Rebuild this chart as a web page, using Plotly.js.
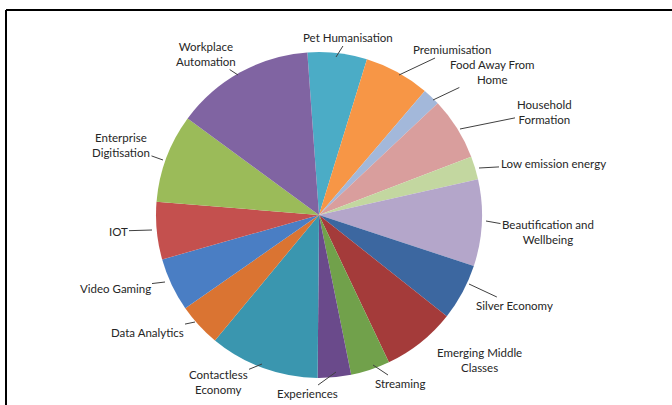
<!DOCTYPE html>
<html>
<head>
<meta charset="utf-8">
<script src="https://cdn.plot.ly/plotly-3.0.1.min.js"></script>
<style>html,body{margin:0;padding:0;background:#fff;}#chart{width:672px;height:405px;}</style>
</head>
<body>
<div id="chart"></div>
<script>
// ---- data ----
var categories = [
  "Pet Humanisation", "Premiumisation", "Food Away From Home", "Household Formation",
  "Low emission energy", "Beautification and Wellbeing", "Silver Economy",
  "Emerging Middle Classes", "Streaming", "Experiences", "Contactless Economy",
  "Data Analytics", "Video Gaming", "IOT", "Enterprise Digitisation", "Workplace Automation"
];
var shares = [5.9, 6.5, 1.75, 6.2, 2.3, 8.6, 5.6, 7.3, 3.9, 3.3, 10.9, 4.3, 5.3, 5.7, 8.8, 13.8];
var labelTexts = [
  "Pet Humanisation", "Premiumisation", "Food Away From<br>Home", "Household<br>Formation",
  "Low emission energy", "Beautification and<br>Wellbeing", "Silver Economy",
  "Emerging Middle<br>Classes", "Streaming", "Experiences", "Contactless<br>Economy",
  "Data Analytics", "Video Gaming", "IOT", "Enterprise<br>Digitisation", "Workplace<br>Automation"
];
var sliceColors = [
  "#4BACC6", "#F79646", "#A3B8DA", "#D99E9D", "#C3D7A0", "#B4A6CA", "#3C67A0",
  "#A43B3A", "#71A14B", "#6A4A8B", "#3A96AF", "#DA7432", "#4A7EC4", "#C4504E",
  "#9BBB59", "#8064A2"
];

// ---- layout: label placement (pixels): text centre and leader end point ----
var W = 672, H = 405;
var labelPos = [
  {tx: 348, ty: 38,  hx: 336, hy: 57},
  {tx: 452, ty: 50,  hx: 399, hy: 75},
  {tx: 492, ty: 72,  hx: 433, hy: 100},
  {tx: 544, ty: 112, hx: 460, hy: 129},
  {tx: 553, ty: 164, hx: 479, hy: 168},
  {tx: 548, ty: 232, hx: 486, hy: 221},
  {tx: 514, ty: 305, hx: 469, hy: 284},
  {tx: 479, ty: 360, hx: null, hy: null},
  {tx: 400, ty: 383, hx: 373, hy: 365},
  {tx: 307, ty: 393, hx: 336, hy: 372},
  {tx: 218, ty: 382, hx: 262, hy: 364},
  {tx: 147, ty: 332, hx: 195, hy: 322},
  {tx: 115, ty: 288, hx: 165, hy: 282},
  {tx: 118, ty: 231, hx: 152, hy: 230},
  {tx: 121, ty: 145, hx: 163, hy: 160},
  {tx: 206, ty: 54,  hx: 238, hy: 75}
];

var cx = 319, cy = 215, R = 163;

var annotations = labelTexts.map(function (t, i) {
  var p = labelPos[i];
  var base = {
    text: t, xref: "paper", yref: "paper",
    xanchor: "center", yanchor: "middle",
    font: {family: "Lato, 'Open Sans', sans-serif", size: 11.5, color: "#262626"},
    align: "center"
  };
  if (p.hx === null) {
    base.x = p.tx / W; base.y = 1 - p.ty / H; base.showarrow = false;
  } else {
    base.x = p.hx / W; base.y = 1 - p.hy / H;
    base.showarrow = true; base.arrowhead = 0; base.arrowwidth = 1;
    base.arrowcolor = "#404040"; base.standoff = 0; base.startstandoff = 0;
    base.ax = p.tx - p.hx; base.ay = p.ty - p.hy;
  }
  return base;
});

var trace = {
  type: "pie",
  labels: categories,
  values: shares,
  sort: false,
  direction: "clockwise",
  rotation: -4.1,
  marker: {colors: sliceColors, line: {width: 0}},
  textinfo: "none",
  hoverinfo: "label+percent",
  showlegend: false,
  domain: {x: [(cx - R) / W, (cx + R) / W], y: [(H - cy - R) / H, (H - cy + R) / H]}
};

var layout = {
  width: W, height: H,
  margin: {l: 0, r: 0, t: 0, b: 0},
  paper_bgcolor: "#ffffff",
  showlegend: false,
  annotations: annotations,
  shapes: [
    {type: "line", xref: "paper", yref: "paper", x0: 6 / W, x1: 1, y0: 1 - 10 / H, y1: 1 - 10 / H, line: {color: "#000", width: 2}},
    {type: "line", xref: "paper", yref: "paper", x0: 6 / W, x1: 6 / W, y0: 0, y1: 1 - 10 / H, line: {color: "#000", width: 2}}
  ]
};

Plotly.newPlot("chart", [trace], layout, {displayModeBar: false, staticPlot: true});
</script>
</body>
</html>
